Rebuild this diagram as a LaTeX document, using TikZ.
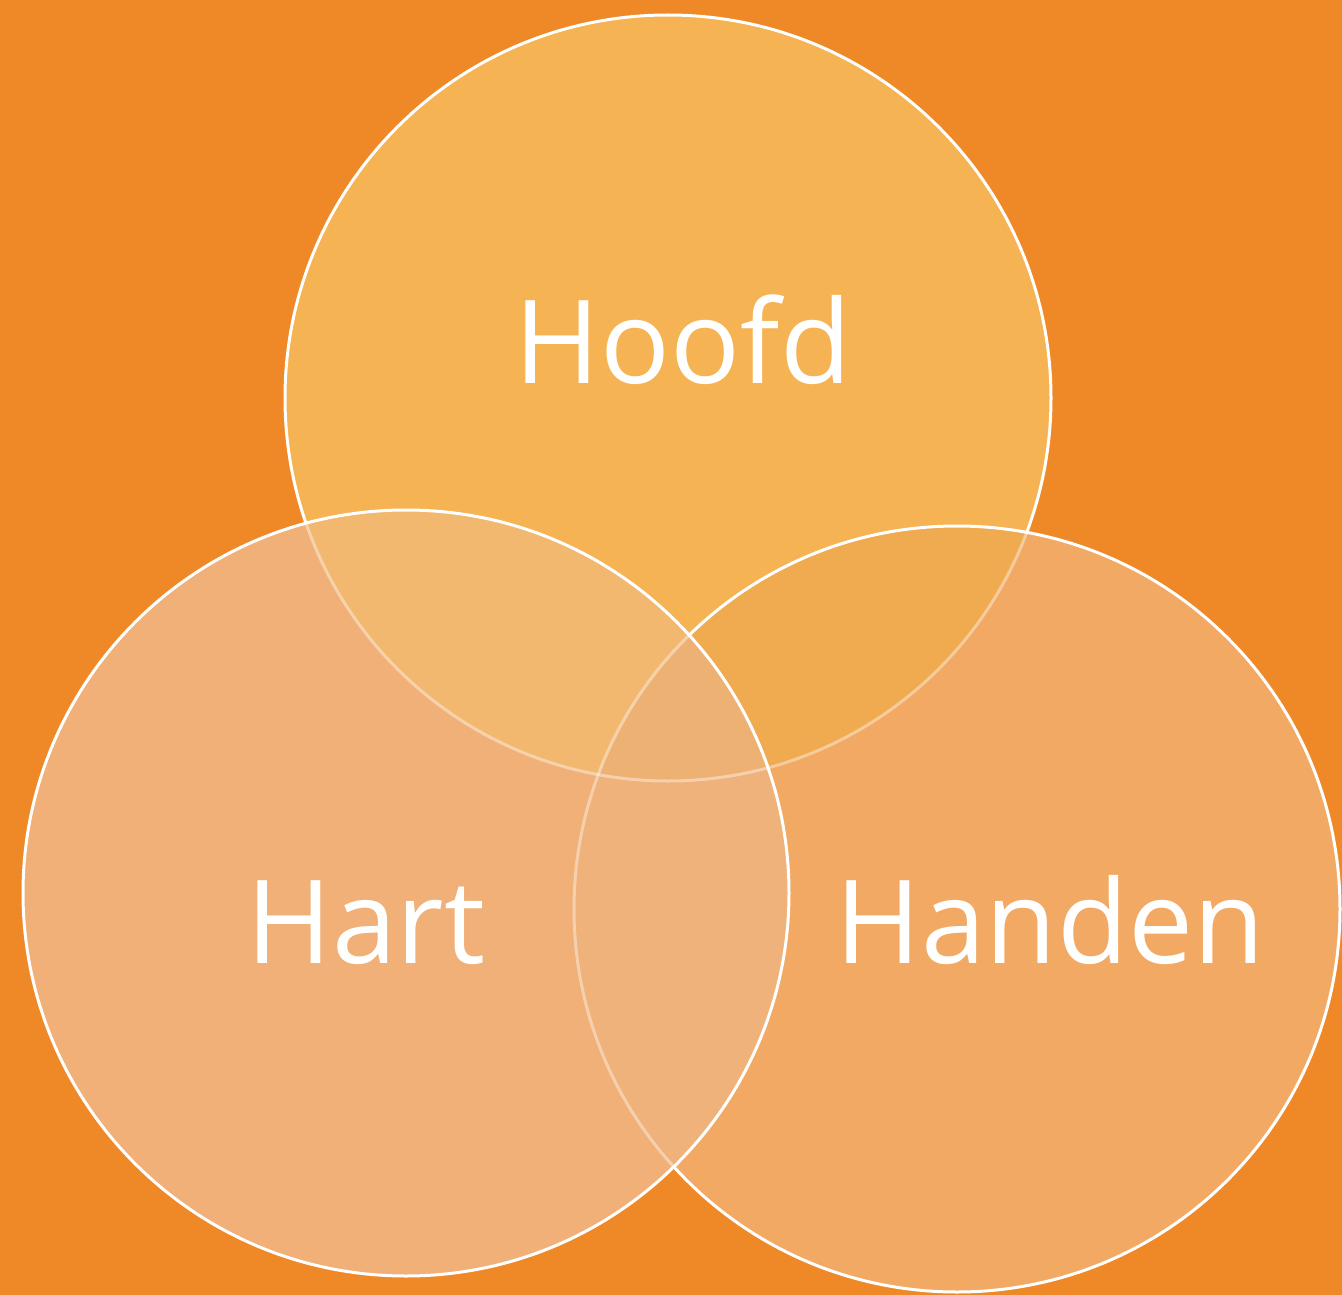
\documentclass[tikz,border=0pt]{standalone}
\usepackage{fontspec}
\setmainfont{Open Sans}
\definecolor{bg}{HTML}{EF8826}
\definecolor{cT}{HTML}{F6B353}
\definecolor{cL}{HTML}{F0B077}
\definecolor{cR}{HTML}{F1A964}
\definecolor{cTL}{HTML}{F2B870}
\definecolor{cTR}{HTML}{F0AA4F}
\definecolor{cLR}{HTML}{EFB27B}
\definecolor{cTLR}{HTML}{EEB174}
\tikzset{
  rim/.style={draw=white, line width=3pt},
  faintrim/.style={draw=white, draw opacity=0.4, line width=3pt},
  lbl/.style={text=white, font=\fontsize{116}{120}\selectfont, anchor=base, inner sep=0pt}
}
\begin{document}
\begin{tikzpicture}[x=1pt,y=-1pt]
\fill[bg] (0,0) rectangle (1342,1295);
\useasboundingbox (0,0) rectangle (1342,1295);
\def\Tc{(668,398)}
\def\Lc{(406,893)}
\def\Rc{(957,909)}
\def\rad{383pt}
% top circle
\fill[cT] \Tc circle[radius=\rad];
\draw[rim] \Tc circle[radius=\rad];
% right circle
\fill[cR] \Rc circle[radius=\rad];
\begin{scope}
  \clip \Rc circle[radius=\rad];
  \fill[cTR] \Tc circle[radius=\rad];
  \draw[faintrim] \Tc circle[radius=\rad];
\end{scope}
\draw[rim] \Rc circle[radius=\rad];
% left circle
\fill[cL] \Lc circle[radius=\rad];
\begin{scope}
  \clip \Lc circle[radius=\rad];
  \fill[cTL] \Tc circle[radius=\rad];
  \fill[cLR] \Rc circle[radius=\rad];
  \begin{scope}
    \clip \Tc circle[radius=\rad];
    \fill[cTLR] \Rc circle[radius=\rad];
  \end{scope}
  \draw[faintrim] \Tc circle[radius=\rad];
  \draw[faintrim] \Rc circle[radius=\rad];
\end{scope}
\draw[rim] \Lc circle[radius=\rad];
% labels
\node[lbl] (hoofd) at (683,383) {Hoofd};
\node[lbl] (hart) at (366,963) {Hart};
\node[lbl] (handen) at (1050,963) {Handen};
\end{tikzpicture}
\end{document}
